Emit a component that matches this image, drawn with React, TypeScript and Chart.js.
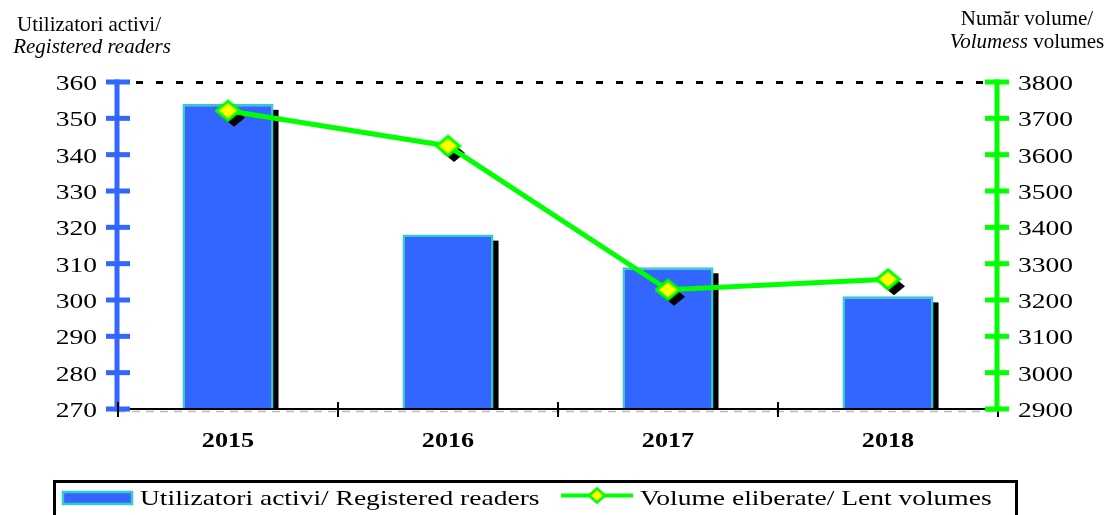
import React, { useEffect, useRef } from "react";
import { Chart, registerables } from "chart.js";

Chart.register(...registerables);

// ---------- data ----------
const categories = ["2015", "2016", "2017", "2018"];
const readers = [354, 318, 309, 301];
const lentVolumes = [3721, 3624, 3228, 3257];
const leftRange = [270, 360];
const leftStep = 10;
const rightRange = [2900, 3800];
const rightStep = 100;
const readersLabel = "Utilizatori activi/ Registered readers";
const volumesLabel = "Volume eliberate/ Lent volumes";
const leftTitle = ["Utilizatori activi/", "Registered readers"];
const rightTitle1 = "Număr volume/";
const rightTitle2 = ["Volumess", " volumes"];

// ---------- styles ----------
const BLUE = "#3366ff";
const TEAL = "#33cccc";
const GREEN = "#00ff00";
const YELLOW = "#ffff00";
const SERIF = "'Liberation Serif', 'Times New Roman', serif";
const SX = 1.31;

function stretchText(
  ctx: CanvasRenderingContext2D,
  text: string,
  x: number,
  y: number,
  align: "left" | "right" | "center",
  font: string,
  sx = SX
) {
  ctx.save();
  ctx.font = font;
  ctx.fillStyle = "#000";
  ctx.textBaseline = "alphabetic";
  ctx.textAlign = "left";
  const w = ctx.measureText(text).width * sx;
  const left = align === "left" ? x : align === "right" ? x - w : x - w / 2;
  ctx.translate(left, y);
  ctx.scale(sx, 1);
  ctx.fillText(text, 0, 0);
  ctx.restore();
}

function diamondPath(ctx: CanvasRenderingContext2D, cx: number, cy: number, hw: number, hh: number) {
  ctx.beginPath();
  ctx.moveTo(cx, cy - hh);
  ctx.lineTo(cx + hw, cy);
  ctx.lineTo(cx, cy + hh);
  ctx.lineTo(cx - hw, cy);
  ctx.closePath();
}

function makeMarker(): HTMLCanvasElement {
  const c = document.createElement("canvas");
  c.width = 27;
  c.height = 23;
  const g = c.getContext("2d")!;
  diamondPath(g, 13.5, 11.5, 11.5, 9.5);
  g.fillStyle = YELLOW;
  g.fill();
  g.lineWidth = 3;
  g.strokeStyle = GREEN;
  g.stroke();
  return c;
}

const decor = {
  id: "decor",
  beforeDatasetsDraw(chart: any) {
    const ctx = chart.ctx as CanvasRenderingContext2D;
    const a = chart.chartArea;
    // top dashed line
    ctx.save();
    ctx.strokeStyle = "#000";
    ctx.lineWidth = 3;
    ctx.setLineDash([7, 13]);
    ctx.beginPath();
    ctx.moveTo(a.left + 18, a.top + 0.5);
    ctx.lineTo(a.right - 12, a.top + 0.5);
    ctx.stroke();
    ctx.restore();
    // bar shadows
    const meta = chart.getDatasetMeta(0);
    ctx.save();
    ctx.fillStyle = "#000";
    meta.data.forEach((el: any) => {
      const l = el.x - el.width / 2 + 5;
      const t = el.y + 6;
      const b = Math.min(el.base, a.bottom);
      ctx.fillRect(l, t, el.width, b - t);
    });
    ctx.restore();
  },
  afterDatasetDraw(chart: any, args: any) {
    if (args.index !== 0) return;
    const ctx = chart.ctx as CanvasRenderingContext2D;
    const meta = chart.getDatasetMeta(1);
    ctx.save();
    ctx.fillStyle = "#000";
    meta.data.forEach((p: any) => {
      diamondPath(ctx, p.x + 6, p.y + 7, 11, 9);
      ctx.fill();
    });
    ctx.restore();
  },
  afterDraw(chart: any) {
    const ctx = chart.ctx as CanvasRenderingContext2D;
    const a = chart.chartArea;
    const yL = chart.scales.y;
    const yR = chart.scales.y1;
    const xS = chart.scales.x;
    const tickFont = `21px ${SERIF}`;

    // x axis line
    ctx.save();
    ctx.strokeStyle = "#bbbbbb";
    ctx.lineWidth = 1.5;
    ctx.setLineDash([8, 6]);
    ctx.beginPath();
    ctx.moveTo(a.left, a.bottom + 2.5);
    ctx.lineTo(a.right, a.bottom + 2.5);
    ctx.stroke();
    ctx.setLineDash([]);
    ctx.strokeStyle = "#000";
    ctx.lineWidth = 2;
    ctx.beginPath();
    ctx.moveTo(a.left, a.bottom);
    ctx.lineTo(a.right, a.bottom);
    ctx.stroke();
    ctx.restore();

    // left axis
    ctx.save();
    ctx.strokeStyle = BLUE;
    ctx.lineWidth = 5;
    ctx.beginPath();
    ctx.moveTo(a.left - 1, a.top - 2.5);
    ctx.lineTo(a.left - 1, a.bottom + 2.5);
    ctx.stroke();
    yL.ticks.forEach((t: any) => {
      const py = yL.getPixelForValue(t.value);
      ctx.beginPath();
      ctx.moveTo(a.left - 12, py);
      ctx.lineTo(a.left + 12, py);
      ctx.stroke();
      stretchText(ctx, String(t.value), 97, py + 8, "right", tickFont);
    });
    ctx.restore();

    // x ticks (category boundaries) and labels
    ctx.save();
    ctx.strokeStyle = "#000";
    ctx.lineWidth = 2;
    const n = categories.length;
    const step = xS.getPixelForTick(1) - xS.getPixelForTick(0);
    for (let i = 0; i <= n; i++) {
      const px = i < n ? xS.getPixelForTick(i) - step / 2 : a.right;
      ctx.beginPath();
      ctx.moveTo(px, a.bottom - 7);
      ctx.lineTo(px, a.bottom + 8);
      ctx.stroke();
    }
    categories.forEach((c, i) => {
      stretchText(ctx, c, xS.getPixelForTick(i), 447, "center", `bold 20px ${SERIF}`);
    });
    ctx.restore();

    // right axis
    ctx.save();
    ctx.strokeStyle = GREEN;
    ctx.lineWidth = 5;
    ctx.beginPath();
    ctx.moveTo(a.right - 1, a.top - 2.5);
    ctx.lineTo(a.right - 1, a.bottom + 2.5);
    ctx.stroke();
    yR.ticks.forEach((t: any) => {
      const py = yR.getPixelForValue(t.value);
      ctx.beginPath();
      ctx.moveTo(a.right - 13, py);
      ctx.lineTo(a.right + 11, py);
      ctx.stroke();
      stretchText(ctx, String(t.value), 1018, py + 8, "left", tickFont);
    });
    ctx.restore();

    // axis titles
    stretchText(ctx, leftTitle[0], 89, 31, "center", `21px ${SERIF}`, 1);
    stretchText(ctx, leftTitle[1], 92, 53, "center", `italic 21px ${SERIF}`, 1);
    stretchText(ctx, rightTitle1, 1027, 25, "center", `21px ${SERIF}`, 1);
    ctx.save();
    ctx.font = `italic 21px ${SERIF}`;
    const w1 = ctx.measureText(rightTitle2[0]).width;
    ctx.font = `21px ${SERIF}`;
    const w2 = ctx.measureText(rightTitle2[1]).width;
    ctx.restore();
    const start = 1027 - (w1 + w2) / 2;
    stretchText(ctx, rightTitle2[0], start, 48, "left", `italic 21px ${SERIF}`, 1);
    stretchText(ctx, rightTitle2[1], start + w1, 48, "left", `21px ${SERIF}`, 1);

    // legend
    ctx.save();
    ctx.strokeStyle = "#000";
    ctx.lineWidth = 3;
    ctx.strokeRect(54.5, 481.5, 962, 45);
    // bar swatch
    ctx.fillStyle = BLUE;
    ctx.fillRect(62, 491, 71, 14);
    ctx.strokeStyle = TEAL;
    ctx.lineWidth = 2.5;
    ctx.strokeRect(63, 492, 69, 12);
    // line swatch
    ctx.strokeStyle = GREEN;
    ctx.lineWidth = 4;
    ctx.beginPath();
    ctx.moveTo(561, 495.5);
    ctx.lineTo(633, 495.5);
    ctx.stroke();
    diamondPath(ctx, 597, 495.5, 8, 7);
    ctx.fillStyle = YELLOW;
    ctx.fill();
    ctx.lineWidth = 2.5;
    ctx.strokeStyle = GREEN;
    ctx.stroke();
    ctx.restore();
    stretchText(ctx, chart.data.datasets[0].label, 140, 505, "left", `21px ${SERIF}`);
    stretchText(ctx, chart.data.datasets[1].label, 640, 505, "left", `21px ${SERIF}`);
  },
};

export default function App() {
  const ref = useRef<HTMLCanvasElement | null>(null);

  useEffect(() => {
    document.body.style.margin = "0";
    const marker = makeMarker();
    const chart = new Chart(ref.current!, {
      type: "bar",
      data: {
        labels: categories,
        datasets: [
          {
            type: "bar",
            label: readersLabel,
            data: readers,
            yAxisID: "y",
            backgroundColor: BLUE,
            borderColor: TEAL,
            borderWidth: 2.5,
            categoryPercentage: 1,
            barPercentage: 0.414,
            order: 2,
          } as any,
          {
            type: "line",
            label: volumesLabel,
            data: lentVolumes,
            yAxisID: "y1",
            borderColor: GREEN,
            borderWidth: 5,
            tension: 0,
            pointStyle: marker,
            pointRadius: 12,
            pointHoverRadius: 12,
            order: 1,
          } as any,
        ],
      },
      options: {
        responsive: false,
        animation: false,
        events: [],
        layout: { padding: { top: 82, left: 0, right: 0, bottom: 0 } },
        plugins: { legend: { display: false }, tooltip: { enabled: false } },
        scales: {
          x: {
            type: "category",
            offset: true,
            grid: { display: false },
            border: { display: false },
            ticks: { display: false },
            afterFit: (s: any) => {
              s.height = 106;
            },
          },
          y: {
            position: "left",
            min: leftRange[0],
            max: leftRange[1],
            ticks: { display: false, stepSize: leftStep },
            grid: { display: false },
            border: { display: false },
            afterFit: (s: any) => {
              s.width = 118;
            },
          },
          y1: {
            position: "right",
            min: rightRange[0],
            max: rightRange[1],
            ticks: { display: false, stepSize: rightStep },
            grid: { display: false },
            border: { display: false },
            afterFit: (s: any) => {
              s.width = 111;
            },
          },
        },
      } as any,
      plugins: [decor],
    });
    return () => chart.destroy();
  }, []);

  return (
    <div style={{ position: "fixed", left: 0, top: 0, width: 1109, height: 515, background: "#fff" }}>
      <canvas ref={ref} width={1109} height={515} style={{ display: "block", width: 1109, height: 515 }} />
    </div>
  );
}
